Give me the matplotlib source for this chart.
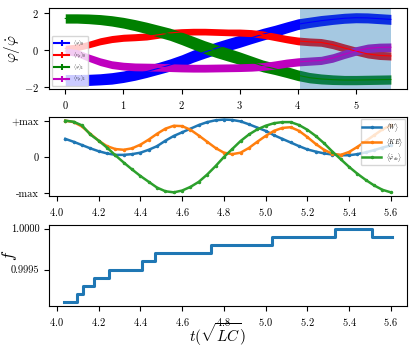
import numpy as np
import matplotlib
matplotlib.use('Agg')
from matplotlib import pyplot as plt
from matplotlib.lines import Line2D
from matplotlib.ticker import MultipleLocator, FormatStrFormatter

plt.rcParams['font.family'] = 'serif'
plt.rcParams['font.serif'] = ['cmr10']
plt.rcParams['mathtext.fontset'] = 'cm'
plt.rcParams['axes.formatter.use_mathtext'] = True

# --- 上图: 相位 / 速度 (均值 ± 误差) ---
t_top = [0.0, 0.2, 0.4, 0.6, 0.8, 1.0, 1.2, 1.4, 1.6, 1.8, 2.0, 2.2, 2.4, 2.6, 2.8,
         3.0, 3.2, 3.4, 3.6, 3.8, 4.0, 4.2, 4.4, 4.6, 4.8, 5.0, 5.2, 5.4, 5.6]
phi0 = [-1.61, -1.61, -1.60, -1.57, -1.52, -1.43, -1.30, -1.15, -0.98, -0.80, -0.58, -0.32, -0.10, 0.11, 0.30,
        0.48, 0.67, 0.86, 1.03, 1.22, 1.40, 1.50, 1.59, 1.66, 1.72, 1.75, 1.74, 1.70, 1.66]
phi0_err = [0.30, 0.30, 0.30, 0.30, 0.31, 0.31, 0.32, 0.32, 0.32, 0.33, 0.33, 0.33, 0.33, 0.33, 0.33,
            0.33, 0.32, 0.32, 0.31, 0.30, 0.29, 0.28, 0.28, 0.27, 0.27, 0.27, 0.27, 0.27, 0.27]
v0 = [0.10, 0.15, 0.30, 0.48, 0.60, 0.67, 0.70, 0.74, 0.83, 0.93, 0.98, 1.00, 1.00, 0.98, 0.96,
      0.95, 0.92, 0.84, 0.72, 0.60, 0.50, 0.45, 0.42, 0.30, 0.12, -0.05, -0.20, -0.28, -0.31]
v0_err = [0.17, 0.18, 0.18, 0.19, 0.19, 0.19, 0.19, 0.19, 0.19, 0.19, 0.18, 0.18, 0.18, 0.18, 0.18,
          0.19, 0.19, 0.20, 0.20, 0.20, 0.21, 0.21, 0.21, 0.22, 0.22, 0.22, 0.22, 0.22, 0.22]
phi1 = [1.71, 1.71, 1.69, 1.65, 1.58, 1.48, 1.35, 1.20, 1.03, 0.86, 0.64, 0.40, 0.16, -0.05, -0.24,
        -0.43, -0.64, -0.85, -1.00, -1.17, -1.35, -1.48, -1.55, -1.59, -1.61, -1.61, -1.60, -1.59, -1.58]
phi1_err = [0.25, 0.25, 0.26, 0.27, 0.28, 0.29, 0.30, 0.31, 0.32, 0.33, 0.34, 0.35, 0.35, 0.35, 0.35,
            0.34, 0.33, 0.32, 0.31, 0.30, 0.29, 0.28, 0.27, 0.26, 0.25, 0.25, 0.25, 0.25, 0.25]
v1 = [-0.05, -0.15, -0.40, -0.62, -0.78, -0.86, -0.90, -0.91, -0.92, -0.94, -0.96, -0.97, -0.97, -0.96, -0.95,
      -0.94, -0.92, -0.88, -0.80, -0.70, -0.63, -0.59, -0.55, -0.42, -0.22, -0.04, 0.10, 0.15, 0.16]
v1_err = [0.18, 0.19, 0.20, 0.21, 0.21, 0.21, 0.21, 0.21, 0.21, 0.21, 0.21, 0.21, 0.21, 0.21, 0.21,
          0.21, 0.21, 0.21, 0.22, 0.22, 0.22, 0.22, 0.22, 0.23, 0.23, 0.23, 0.23, 0.23, 0.23]
top_labels = [r'$\langle\varphi\rangle_0$', r'$\langle v_\varphi\rangle_0$',
              r'$\langle\varphi\rangle_1$', r'$\langle v_\varphi\rangle_1$']
top_colors = ['b', 'r', 'g', 'm']
span_start, span_end = 4.04, 5.6

# --- 中图: 归一化能量 ---
t_mid = [4.04, 4.08, 4.12, 4.16, 4.20, 4.24, 4.28, 4.32, 4.36, 4.40, 4.44, 4.48, 4.52, 4.56,
         4.60, 4.64, 4.68, 4.72, 4.76, 4.80, 4.84, 4.88, 4.92, 4.96, 5.00, 5.04, 5.08, 5.12,
         5.16, 5.20, 5.24, 5.28, 5.32, 5.36, 5.40, 5.44, 5.48, 5.52, 5.56, 5.60]
W = [0.50, 0.42, 0.33, 0.24, 0.16, 0.10, 0.06, 0.06, 0.08, 0.12, 0.20, 0.30, 0.45, 0.58,
     0.68, 0.78, 0.88, 0.96, 1.01, 1.03, 1.02, 0.98, 0.90, 0.81, 0.72, 0.60, 0.50, 0.40,
     0.30, 0.21, 0.15, 0.10, 0.07, 0.05, 0.05, 0.08, 0.13, 0.19, 0.26, 0.32]
KE = [1.00, 0.96, 0.84, 0.64, 0.45, 0.30, 0.22, 0.20, 0.24, 0.34, 0.48, 0.64, 0.78, 0.86,
      0.85, 0.75, 0.59, 0.42, 0.25, 0.12, 0.08, 0.12, 0.25, 0.42, 0.58, 0.72, 0.80, 0.82,
      0.72, 0.55, 0.36, 0.20, 0.09, 0.06, 0.14, 0.28, 0.44, 0.60, 0.76, 0.87]
phidot_dc = [1.00, 0.97, 0.87, 0.62, 0.45, 0.26, 0.05, -0.15, -0.34, -0.52, -0.68, -0.84, -0.94, -0.97,
             -0.92, -0.82, -0.68, -0.48, -0.25, 0.00, 0.22, 0.44, 0.62, 0.76, 0.86, 0.93, 0.96, 0.96,
             0.88, 0.75, 0.58, 0.38, 0.15, -0.06, -0.27, -0.46, -0.63, -0.78, -0.90, -0.97]
mid_labels = [r'$\langle W\rangle$', r'$\langle KE\rangle$', r'$\langle\dot{\varphi}_{dc}\rangle$']
mid_ticklabels = ['-max', '0', '+max']

# --- 下图: f 阶梯 ---
t_step = [4.035, 4.097, 4.126, 4.177, 4.249, 4.408, 4.470, 4.740, 5.029, 5.332, 5.510, 5.604]
f_step = [0.9991, 0.9992, 0.9993, 0.9994, 0.9995, 0.9996, 0.9997, 0.9998, 0.9999, 1.0000, 0.9999, 0.9999]

fig = plt.figure(figsize=(4.15, 3.51), dpi=100)
ax1 = fig.add_axes([0.118, 0.746, 0.863, 0.231])
ax2 = fig.add_axes([0.118, 0.4416, 0.863, 0.225])
ax3 = fig.add_axes([0.118, 0.128, 0.863, 0.231])

# 上图
handles = []
for m, e, c in zip([phi0, v0, phi1, v1], [phi0_err, v0_err, phi1_err, v1_err], top_colors):
    m = np.array(m)
    e = np.array(e)
    ax1.fill_between(t_top, m - e, m + e, color=c, lw=0, zorder=2)
    ax1.plot(t_top, m, color=c, lw=0.8, zorder=2.1)
    handles.append(Line2D([], [], color=c, lw=1.5, marker='|', ms=5, mew=1.5))
ax1.axvspan(span_start, span_end, color='C0', alpha=0.4, lw=0, zorder=2.05)
ax1.set_xlim(-0.28, 5.88)
ax1.set_ylim(-2.1, 2.27)
ax1.set_yticks([-2, 0, 2])
ax1.set_ylabel(r'$\varphi/\dot{\varphi}$', fontsize=11, labelpad=2)
ax1.legend(handles, top_labels, loc='lower left', fontsize=3.5, handlelength=3.2,
           borderaxespad=0.6, labelspacing=0.3, borderpad=0.4)

# 中图
for y, lab in zip([W, KE, phidot_dc], mid_labels):
    ax2.plot(t_mid, y, marker='.', ms=3, lw=1.8, label=lab)
ax2.set_xlim(3.962, 5.678)
ax2.set_ylim(-1.07, 1.1)
ax2.set_yticks([-1, 0, 1])
ax2.set_yticklabels(mid_ticklabels)
ax2.xaxis.set_major_locator(MultipleLocator(0.2))
ax2.legend(loc='upper right', fontsize=4.5, handlelength=3, borderaxespad=0.3,
           labelspacing=0.3, borderpad=0.3)

# 下图
ax3.step(t_step, f_step, where='post', color='C0', lw=2.2)
ax3.set_xlim(3.962, 5.678)
ax3.xaxis.set_major_locator(MultipleLocator(0.2))
ax3.yaxis.set_major_locator(MultipleLocator(0.0005))
ax3.yaxis.set_major_formatter(FormatStrFormatter('%.4f'))
ax3.set_ylabel(r'$f$', fontsize=12)
ax3.yaxis.set_label_coords(-0.085, 0.62)
ax3.set_xlabel(r'$t(\sqrt{LC})$', fontsize=11)
ax3.xaxis.set_label_coords(0.47, -0.19)

for ax in [ax1, ax2, ax3]:
    ax.tick_params(labelsize=7.5)

fig.savefig('out.png', dpi=100)
